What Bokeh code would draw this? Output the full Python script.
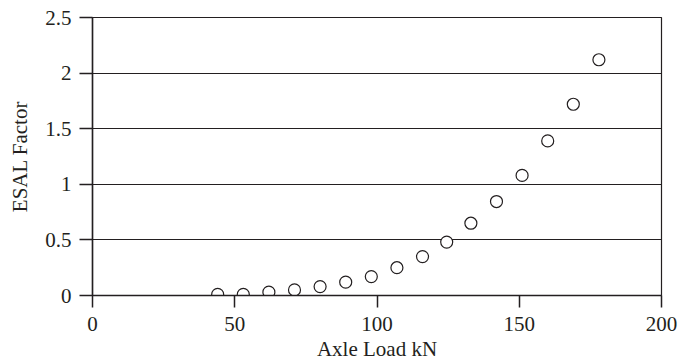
from bokeh.plotting import figure
from bokeh.models import Range1d, FixedTicker, NumeralTickFormatter
from bokeh.embed import file_html
from bokeh.resources import INLINE

# Data
axle_load_kn = [44, 53, 62, 71, 80, 89, 98, 107, 116, 124.5, 133, 142, 151, 160, 169, 178]
esal_factor = [0.01, 0.01, 0.03, 0.05, 0.08, 0.12, 0.17, 0.25, 0.35, 0.48, 0.65, 0.845, 1.08, 1.39, 1.72, 2.12]
x_ticks = [0, 50, 100, 150, 200]
y_ticks = [0, 0.5, 1, 1.5, 2, 2.5]

INK = "#231f20"
FONT = "Liberation Serif"

p = figure(width=678, height=364, output_backend="svg", toolbar_location=None,
           x_range=Range1d(0, 200), y_range=Range1d(0, 2.5),
           min_border_left=92, min_border_right=17, min_border_top=17, min_border_bottom=69)
p.background_fill_color = "white"
p.border_fill_color = "white"
p.outline_line_color = INK
p.outline_line_width = 1.2

p.xgrid.grid_line_color = None
p.ygrid.ticker = FixedTicker(ticks=y_ticks)
p.ygrid.grid_line_color = INK
p.ygrid.grid_line_width = 1

p.xaxis.ticker = FixedTicker(ticks=x_ticks)
p.yaxis.ticker = FixedTicker(ticks=y_ticks)
p.yaxis.formatter = NumeralTickFormatter(format="0.[0]")
p.xaxis.formatter = NumeralTickFormatter(format="0")

for ax in (p.xaxis[0], p.yaxis[0]):
    ax.axis_line_color = INK
    ax.axis_line_width = 1.5
    ax.major_tick_line_color = INK
    ax.major_tick_line_width = 1.5
    ax.major_tick_in = 0
    ax.minor_tick_line_color = None
    ax.major_label_text_font = FONT
    ax.major_label_text_font_size = "21px"
    ax.major_label_text_color = INK
    ax.axis_label_text_font = FONT
    ax.axis_label_text_font_size = "21px"
    ax.axis_label_text_font_style = "normal"
    ax.axis_label_text_color = INK

p.xaxis.major_tick_out = 12
p.yaxis.major_tick_out = 13
p.xaxis.major_label_standoff = 9
p.yaxis.major_label_standoff = 8
p.xaxis.axis_label = "Axle Load kN"
p.yaxis.axis_label = "ESAL Factor"
p.xaxis.axis_label_standoff = 3
p.yaxis.axis_label_standoff = 10

p.scatter(axle_load_kn, esal_factor, marker="circle", size=12,
          fill_color="white", line_color=INK, line_width=1.2)

open("out.html", "w").write(file_html(p, INLINE))
